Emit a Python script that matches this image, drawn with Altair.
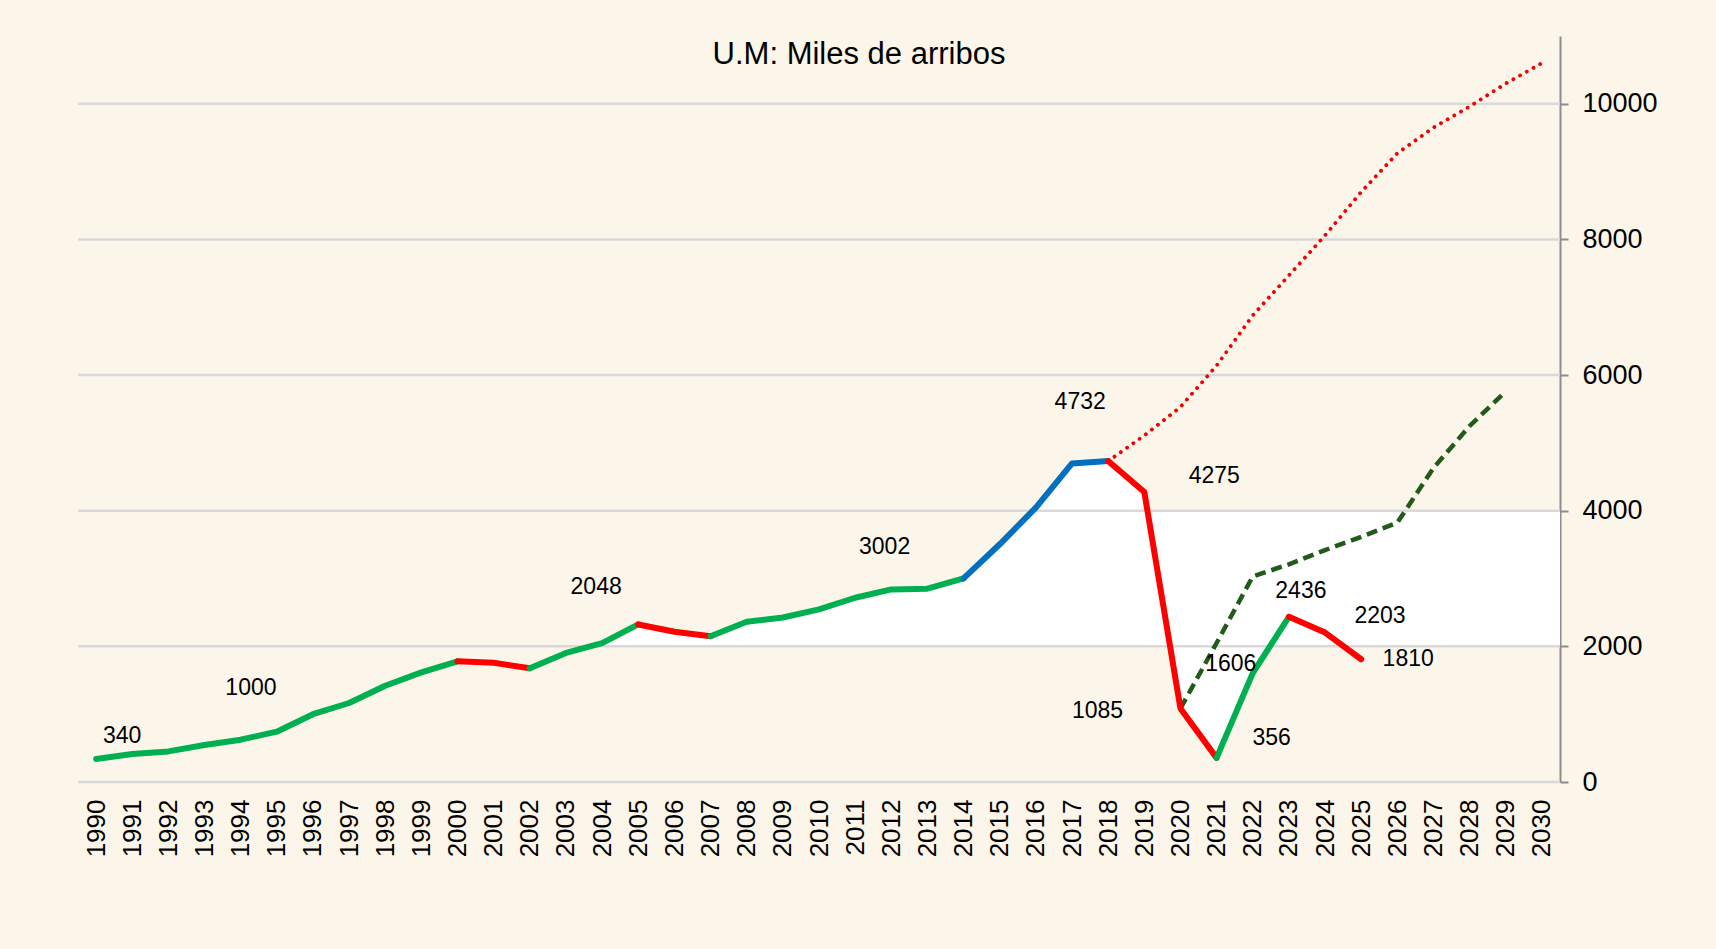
import altair as alt
import numpy as np
import pandas as pd

# Arribos anuales (miles)
years = list(range(1990, 2026))
arribos = [340, 413, 451, 546, 624, 742, 1000, 1165, 1420, 1617,
           1779, 1758, 1677, 1903, 2048, 2323, 2215, 2150, 2362, 2425,
           2545, 2717, 2840, 2850, 3002, 3505, 4047, 4697, 4732, 4275,
           1085, 356, 1606, 2436, 2203, 1810]

# Tramos coloreados de la serie: (desde, hasta)
tramo_desde = [1990, 2000, 2002, 2005, 2007, 2014, 2018, 2021, 2023]
tramo_hasta = [2000, 2002, 2005, 2007, 2014, 2018, 2021, 2023, 2025]
tramo_color = ["#00B050", "#FF0000", "#00B050", "#FF0000", "#00B050",
               "#0070C0", "#FF0000", "#00B050", "#FF0000"]

# Trayectoria tendencial sin pandemia
alta_years = list(range(2018, 2031))
alta = [4732, 5110, 5530, 6140, 6880, 7470, 8060, 8700, 9270, 9650,
        9960, 10300, 10600]

# Trayectoria de recuperación
baja_years = list(range(2020, 2030))
baja = [1085, 2050, 3030, 3210, 3420, 3615, 3825, 4630, 5250, 5760]

# Etiquetas de valor y su desplazamiento en píxeles
label_years = [1990, 1996, 2004, 2014, 2018, 2019, 2020, 2021, 2022, 2023, 2024, 2025]
label_dx = [26, -62, -6, -79, -28, 70, -83, 55, -22, 12, 55, 47]
label_dy = [-23, -26, -56, -31, -59, -16, 3, -20, -9, -26, -17, 0]

y_ticks = [0, 2000, 4000, 6000, 8000, 10000]
x_ticks = list(range(1990, 2031))

FONT = "Liberation Sans"
BG = "#FCF6EA"

# ---- tables -------------------------------------------------------------
serie_rows = []
for k, (a, b, c) in enumerate(zip(tramo_desde, tramo_hasta, tramo_color)):
    for yr, v in zip(years, arribos):
        if a <= yr <= b:
            serie_rows.append({"year": yr, "value": v, "seg": k, "color": c})
serie = pd.DataFrame(serie_rows)

alta_df = pd.DataFrame({"year": alta_years, "value": alta})
baja_df = pd.DataFrame({"year": baja_years, "value": baja})

val_by_year = dict(zip(years, arribos))
grid_df = pd.DataFrame({"v": y_ticks})

# White band: follows the series above 2000 until it falls through 4000,
# then holds 2000-4000, dipping with the series during the trough.
xs_arr = np.array(years, dtype=float)
vs_arr = np.array(arribos, dtype=float)


def L(x):
    return float(np.interp(x, xs_arr, vs_arr))


crossings = []
for i in range(len(years) - 1):
    v0, v1 = arribos[i], arribos[i + 1]
    for level in (2000, 4000):
        if (v0 - level) * (v1 - level) < 0:
            t = years[i] + (level - v0) / (v1 - v0)
            crossings.append((t, level, "up" if v1 > v0 else "down"))

t_start = min(t for t, lv, d in crossings if lv == 2000 and d == "up")
t_fall = min(t for t, lv, d in crossings if lv == 4000 and d == "down")
dip_end = min(t for t, lv, d in crossings if lv == 2000 and d == "up" and t > t_fall)
x_end = 2030.5

pts = {t_start, x_end}
pts.update(y for y in years if y > t_start)
pts.update(t for t, lv, d in crossings if t > t_start)
band_rows = []
for x in sorted(pts):
    hi = L(x) if x <= t_fall else 4000.0
    lo = min(L(x), 2000.0) if t_fall <= x <= dip_end else 2000.0
    band_rows.append({"x": x, "lo": lo, "hi": max(hi, lo)})
band = pd.DataFrame(band_rows)

# ---- scales / axes ------------------------------------------------------
x_scale = alt.Scale(domain=[1989.5, 2030.5], nice=False, zero=False)
y_scale = alt.Scale(domain=[0, 11000], nice=False)

x_axis = alt.Axis(values=x_ticks, format="d", labelAngle=270, labelFontSize=26,
                  labelFont=FONT, labelColor="#000000", labelPadding=17,
                  domain=False, ticks=False, grid=False, labelFlush=False,
                  labelOverlap=False, title=None)
y_axis = alt.Axis(values=y_ticks, format="d", orient="right", labelFontSize=27,
                  labelFont=FONT, labelColor="#000000", labelPadding=14,
                  domain=True, domainColor="#8C8C8C", domainWidth=2, ticks=True,
                  tickColor="#8C8C8C", tickSize=8, tickWidth=2, grid=False,
                  title=None, labelFlush=False)


def X(field):
    return alt.X(field, scale=x_scale, axis=x_axis)


def Y(field):
    return alt.Y(field, scale=y_scale, axis=y_axis)


band_layer = alt.Chart(band).mark_area(color="#FFFFFF", opacity=1).encode(
    x=X("x:Q"), y=Y("lo:Q"), y2="hi:Q"
)

grid_layer = alt.Chart(grid_df).mark_rule(color="#D9D9D9", strokeWidth=2.5).encode(
    y=Y("v:Q")
)

alta_layer = alt.Chart(alta_df).mark_line(
    color="#F00000", strokeWidth=3.8, strokeDash=[0.1, 7.6], strokeCap="round"
).encode(x=X("year:Q"), y=Y("value:Q"))

baja_layer = alt.Chart(baja_df).mark_line(
    color="#225A1C", strokeWidth=4.5, strokeDash=[11, 6]
).encode(x=X("year:Q"), y=Y("value:Q"))

serie_layer = alt.Chart(serie).mark_line(
    strokeWidth=6, strokeCap="round", strokeJoin="round"
).encode(
    x=X("year:Q"), y=Y("value:Q"),
    color=alt.Color("color:N", scale=None),
    detail="seg:N",
    order="year:Q",
)

# One text layer per value label, each nudged off its point
label_layers = []
for yr, dx, dy in zip(label_years, label_dx, label_dy):
    v = val_by_year[yr]
    df = pd.DataFrame({"year": [yr], "value": [v], "text": [str(v)]})
    label_layers.append(
        alt.Chart(df).mark_text(
            font=FONT, fontSize=23, color="#000000", align="center",
            baseline="middle", dx=dx, dy=dy
        ).encode(x=X("year:Q"), y=Y("value:Q"), text="text:N")
    )

title_layer = alt.Chart(pd.DataFrame({"t": ["U.M: Miles de arribos"]})).mark_text(
    font=FONT, fontSize=31, color="#000000", align="center", baseline="alphabetic"
).encode(x=alt.value(781), y=alt.value(28), text="t:N")

chart = alt.layer(
    band_layer, grid_layer, alta_layer, baja_layer, serie_layer,
    *label_layers, title_layer
).properties(
    width=1482, height=746,
    padding={"left": 78, "top": 36, "right": 156, "bottom": 167},
    autosize=alt.AutoSizeParams(type="none"),
    background=BG,
).configure_view(stroke=None)

chart.save("out.html", embed_options={"renderer": "svg", "actions": False})
